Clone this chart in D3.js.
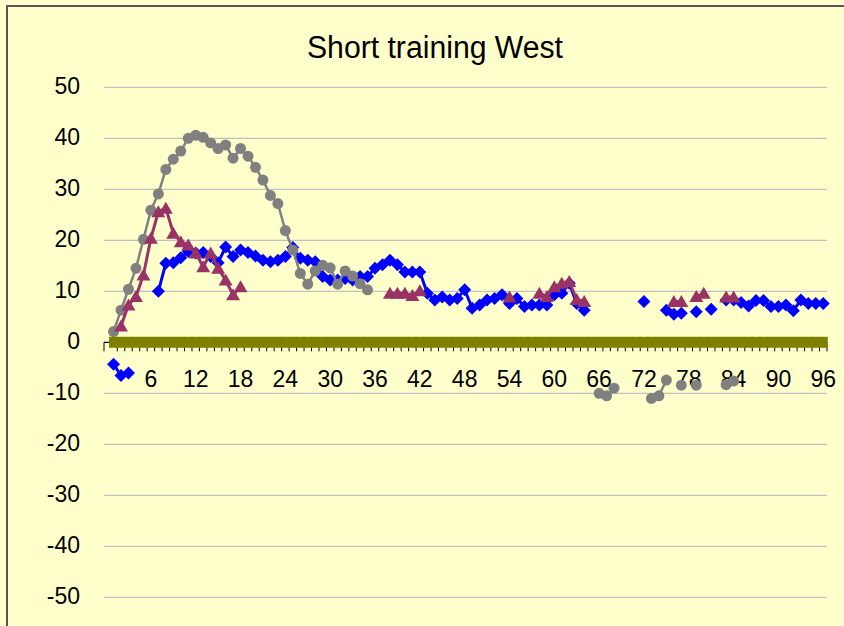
<!DOCTYPE html>
<html>
<head>
<meta charset="utf-8">
<script src="https://cdn.jsdelivr.net/npm/d3@7"></script>
<style>
body { margin: 0; background: #ffffcc; }
svg { display: block; }
text { font-family: "Liberation Sans", Arial, sans-serif; fill: #000; }
</style>
</head>
<body>
<svg id="chart"></svg>
<script>
const title = 'Short training West',
categories = d3.range(1, 97),
xTicks = [6, 12, 18, 24, 30, 36, 42, 48, 54, 60, 66, 72, 78, 84, 90, 96],
yTicks = [-50, -40, -30, -20, -10, 0, 10, 20, 30, 40, 50],
width = 844,
height = 626;

// one value per category (1..96), null where the sheet is empty
const blue = [-4.3, -6.5, -6, null, null, null, 10, 15.5, 15.6, 16.6,
  17.8, 17.5, 17.6, 16.8, 15.6, 18.7, 16.8, 18.1, 17.6, 16.9,
  16.1, 15.8, 16.1, 16.8, 18.6, 16.5, 16.1, 15.8, 12.9, 12.2,
  12.2, 12.5, 12.2, 12.9, 12.9, 14.5, 15.2, 16.1, 15.2, 13.8,
  13.8, 13.8, 9.6, 8.3, 8.9, 8.3, 8.6, 10.3, 6.7, 7.3,
  8.3, 8.6, 9.3, 7.6, 8.6, 7, 7.3, 7.3, 7.3, 9.3,
  9.6, 11.6, 7.6, 6.3, null, null, null, null, null, null,
  null, 8, null, null, 6.3, 5.5, 5.7, null, 6, null,
  6.5, null, 8.3, 8.3, 7.8, 7.1, 8.2, 8.2, 7, 7,
  7.3, 6.2, 8.3, 7.6, 7.6, 7.6];

const gray = [2.1, 6.3, 10.4, 14.5, 20.2, 25.9, 29.1, 33.9, 35.9, 37.5,
  40, 40.6, 40.2, 39.1, 38, 38.7, 36.1, 38, 36.5, 34.3,
  31.8, 28.8, 27.2, 21.9, 18.1, 13.5, 11.4, 14, 15.1, 14.6,
  11.4, 14, 13, 11.5, 10.3, null, null, null, null, null,
  null, null, null, null, null, null, null, null, null, null,
  null, null, null, null, null, null, null, null, null, null,
  null, null, null, null, null, -10, -10.5, -9, null, null,
  null, null, -11, -10.5, -7.4, null, -8.4, null, -8.4, null,
  null, null, -8.3, -7.6, null, null, null, null, null, null,
  null, null, null, null, null, null];

const purple = [null, 3.2, 7.3, 9, 13.2, 20.4, 25.6, 26.3, 21.4, 19.7,
  19.1, 17.5, 14.8, 17.5, 14.5, 12.2, 9.3, 10.9, null, null,
  null, null, null, null, null, null, null, null, null, null,
  null, null, null, null, null, null, null, 9.6, 9.6, 9.6,
  9.2, 10.1, null, null, null, null, null, null, null, null,
  null, null, null, 8.9, null, null, null, 9.6, 9, 10.9,
  11.6, 11.9, 8.4, 8, null, null, null, null, null, null,
  null, null, null, null, null, 8, 8, null, 9, 9.6,
  null, null, 8.9, 8.9, null, null, null, null, null, null,
  null, null, null, null, null, null];

const olive = [0, 0, 0, 0, 0, 0, 0, 0, 0, 0, 0, 0, 0, 0, 0, 0, 0, 0, 0, 0,
  0, 0, 0, 0, 0, 0, 0, 0, 0, 0, 0, 0, 0, 0, 0, 0, 0, 0, 0, 0,
  0, 0, 0, 0, 0, 0, 0, 0, 0, 0, 0, 0, 0, 0, 0, 0, 0, 0, 0, 0,
  0, 0, 0, 0, 0, 0, 0, 0, 0, 0, 0, 0, 0, 0, 0, 0, 0, 0, 0, 0,
  0, 0, 0, 0, 0, 0, 0, 0, 0, 0, 0, 0, 0, 0, 0, 0];

const x = d3.scaleLinear()
.domain([0.5, 96.5])
.range([109.8, 827]);

const y = d3.scaleLinear()
.domain([-50, 50])
.range([597.3, 87.3]);

const svg = d3.select('#chart')
.attr('width', width)
.attr('height', height);

svg.append('rect')
.attr('x', 0).attr('y', 0)
.attr('width', width).attr('height', height)
.attr('fill', '#ffffcc');

svg.append('rect')
.attr('x', 7).attr('y', 6)
.attr('width', 900).attr('height', 700)
.attr('fill', '#ffffcc')
.attr('stroke', '#555')
.attr('stroke-width', 2);

svg.append('text')
.attr('x', 435)
.attr('y', 58)
.attr('text-anchor', 'middle')
.attr('font-size', 31)
.attr('textLength', 256)
.attr('lengthAdjust', 'spacingAndGlyphs')
.text(title);

// gridlines
svg.append('g')
.selectAll('line')
.data(yTicks.filter(d => d !== 0))
.enter().append('line')
.attr('x1', 104)
.attr('x2', x(96.5))
.attr('y1', d => y(d))
.attr('y2', d => y(d))
.attr('stroke', '#c0c0c0')
.attr('stroke-width', 1.3);

svg.append('g')
.selectAll('text')
.data(yTicks)
.enter().append('text')
.attr('x', 80)
.attr('y', d => y(d) + 7)
.attr('text-anchor', 'end')
.attr('font-size', 23)
.text(d => d);

// category axis at zero
const axis = svg.append('g');

axis.append('line')
.attr('x1', 104).attr('x2', x(96.5))
.attr('y1', y(0)).attr('y2', y(0))
.attr('stroke', '#000')
.attr('stroke-width', 1.3);

axis.selectAll('.tick')
.data([0].concat(categories))
.enter().append('line')
.attr('class', 'tick')
.attr('x1', d => d === 0 ? 104 : x(d + 0.5))
.attr('x2', d => d === 0 ? 104 : x(d + 0.5))
.attr('y1', y(0))
.attr('y2', y(0) + 9)
.attr('stroke', '#000')
.attr('stroke-width', 1);

axis.selectAll('.lbl')
.data(xTicks)
.enter().append('text')
.attr('class', 'lbl')
.attr('x', d => x(d))
.attr('y', y(0) + 45)
.attr('text-anchor', 'middle')
.attr('font-size', 23)
.text(d => d);

const toPoints = (vals) => vals.map((v, i) => ({c: categories[i], v: v}));

const line = d3.line()
.defined(d => d.v !== null)
.x(d => x(d.c))
.y(d => y(d.v));

const diamond = 'M0,-6.5L6.5,0L0,6.5L-6.5,0Z',
triangle = 'M0,-6.5L7,5.5L-7,5.5Z',
square = 'M-4.5,-5.5H4.5V5.5H-4.5Z';

const series = [
  {vals: blue, color: '#0000ff', width: 3, shape: diamond},
  {vals: gray, color: '#808080', width: 2.5, shape: null},
  {vals: purple, color: '#993366', width: 3, shape: triangle},
  {vals: olive, color: '#808000', width: 3, shape: square}
];

series.forEach((s) => {
  const pts = toPoints(s.vals);
  const g = svg.append('g');

  g.append('path')
  .attr('d', line(pts))
  .attr('fill', 'none')
  .attr('stroke', s.color)
  .attr('stroke-width', s.width);

  const marks = pts.filter(d => d.v !== null);
  if (s.shape) {
    g.selectAll('path.m')
    .data(marks)
    .enter().append('path')
    .attr('class', 'm')
    .attr('d', s.shape)
    .attr('transform', d => `translate(${x(d.c)},${y(d.v)})`)
    .attr('fill', s.color);
  } else {
    g.selectAll('circle')
    .data(marks)
    .enter().append('circle')
    .attr('cx', d => x(d.c))
    .attr('cy', d => y(d.v))
    .attr('r', 5.5)
    .attr('fill', s.color);
  }
});
</script>
</body>
</html>
